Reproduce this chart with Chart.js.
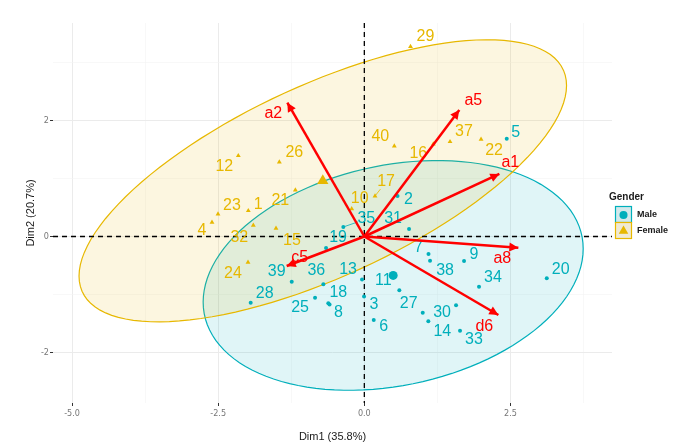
<!DOCTYPE html>
<html>
<head>
<meta charset="utf-8">
<script src="https://cdn.jsdelivr.net/npm/chart.js@4.4.1/dist/chart.umd.min.js"></script>
<style>
  html, body { margin: 0; padding: 0; background: #fff; }
</style>
</head>
<body>
<canvas id="biplot" width="689" height="448"></canvas>
<script>
// individuals, PCA coordinates
const maleIds  = ['2', '3', '5', '6', '7', '8', '9', '11', '13', '14', '18', '19', '20', '25', '27', '28', '30', '31', '33', '34', '35', '36', '38', '39'];
const maleDim1 = [0.568, -0.005, 2.436, 0.161, 1.098, -0.595, 1.706, 0.599, -0.039, 1.095, -0.616, -0.655, 3.121, -0.843, 0.999, -1.944, 1.569, 0.765, 1.637, 1.962, -0.359, -0.701, 1.124, -1.242];
const maleDim2 = [0.697, -1.033, 1.683, -1.437, -0.301, -1.170, -0.422, -0.926, -0.740, -1.460, -1.150, -0.198, -0.719, -1.053, -1.312, -1.139, -1.184, 0.129, -1.621, -0.864, 0.164, -0.823, -0.417, -0.778];

const femaleIds  = ['1', '4', '10', '12', '15', '16', '17', '21', '22', '23', '24', '26', '29', '32', '37', '40'];
const femaleDim1 = [-1.985, -2.606, -0.216, -2.156, -1.511, 1.180, 0.183, -1.180, 1.997, -2.503, -1.990, -1.454, 0.790, -1.899, 1.466, 0.513];
const femaleDim2 = [0.444, 0.244, 0.478, 1.391, 0.141, 1.592, 0.697, 0.800, 1.673, 0.387, -0.444, 1.282, 3.270, 0.193, 1.632, 1.558];

// variables (arrows)
const varNames = ['a1', 'a2', 'a5', 'a8', 'c5', 'd6'];
const varDim1  = [2.310, -1.317, 1.625, 2.635, -1.328, 2.293];
const varDim2  = [1.076, 2.303, 2.177, -0.193, -0.508, -1.351];

const xTicks = [-5, -2.5, 0, 2.5];
const yTicks = [-2, 0, 2];
const xGrid = [-5, -3.75, -2.5, -1.25, 0, 1.25, 2.5, 3.75];
const yGrid = [-2, -1, 0, 1, 2, 3];

const MALE = '#00AFBB';
const FEMALE = '#E7B800';
const ARROW = '#FF0000';
const LABEL_FONT = "16px 'Liberation Sans', Arial, sans-serif";
const TICK_FONT = { family: "'Liberation Sans Narrow', 'DejaVu Sans Condensed', Arial", size: 9 };

// label placement (pixels from the point), like ggrepel put them
const labelNudge = {
  '2': [11, 4], '3': [10, 8], '5': [9, -6], '6': [10, 7], '7': [-10, -6], '8': [9, 8], '9': [10, -6],
  '11': [-16, -10], '13': [-14, -10], '14': [14, 10], '18': [10, -11], '19': [12, -10], '20': [14, -9],
  '25': [-15, 10], '27': [-14, -9], '28': [14, -9], '30': [-14, 7], '31': [-16, -10], '33': [14, 9],
  '34': [14, -9], '35': [23, -8], '36': [-7, -14], '38': [15, 10], '39': [-15, -10],
  '1': [10, -6], '4': [-10, 8], '10': [8, -10], '12': [-14, 11], '15': [16, 12], '16': [-15, 10],
  '17': [11, -14], '21': [-15, 11], '22': [13, 11], '23': [14, -8], '24': [-15, 11], '26': [15, -9],
  '29': [15, -10], '32': [-14, 12], '37': [14, -10], '40': [-14, -9],
  a1: [11, -11], a2: [-14, 11], a5: [14, -9], a8: [-16, 11], c5: [13, -8], d6: [-14, 12]
};
const leaders = ['17', '35'];

const mean = a => a.reduce((s, v) => s + v, 0) / a.length;
const toPoints = (xs, ys) => xs.map((v, i) => ({ x: v, y: ys[i] }));

function withAlpha(hex, a) {
  const n = parseInt(hex.slice(1), 16);
  return `rgba(${n >> 16}, ${(n >> 8) & 255}, ${n & 255}, ${a})`;
}

// 95% normal confidence ellipse, same recipe as ggplot2::stat_ellipse(type = "norm")
function normEllipse(xs, ys, level) {
  const n = xs.length, mx = mean(xs), my = mean(ys);
  let sxx = 0, syy = 0, sxy = 0;
  for (let i = 0; i < n; i++) {
    const dx = xs[i] - mx, dy = ys[i] - my;
    sxx += dx * dx; syy += dy * dy; sxy += dx * dy;
  }
  sxx /= n - 1; syy /= n - 1; sxy /= n - 1;
  const r11 = Math.sqrt(sxx), r12 = sxy / r11, r22 = Math.sqrt(syy - r12 * r12);
  const dfd = n - 1;
  const f = dfd / 2 * (Math.pow(1 - level, -2 / dfd) - 1); // qf(level, 2, dfd)
  const rad = Math.sqrt(2 * f);
  const out = [];
  for (let k = 0; k <= 120; k++) {
    const t = k / 120 * 2 * Math.PI, c = Math.cos(t), s = Math.sin(t);
    out.push([mx + rad * c * r11, my + rad * (c * r12 + s * r22)]);
  }
  return out;
}

const groups = [
  { xs: maleDim1, ys: maleDim2, color: MALE },
  { xs: femaleDim1, ys: femaleDim2, color: FEMALE }
];

const ellipsePlugin = {
  id: 'groupEllipses',
  beforeDatasetsDraw(chart) {
    const { ctx, chartArea: a, scales: { x, y } } = chart;
    ctx.save();
    ctx.beginPath();
    ctx.rect(a.left, a.top, a.right - a.left, a.bottom - a.top);
    ctx.clip();
    groups.forEach(g => {
      const pts = normEllipse(g.xs, g.ys, 0.95);
      ctx.beginPath();
      pts.forEach(([u, v], i) => {
        const px = x.getPixelForValue(u), py = y.getPixelForValue(v);
        if (i) ctx.lineTo(px, py); else ctx.moveTo(px, py);
      });
      ctx.closePath();
      ctx.fillStyle = withAlpha(g.color, 0.12);
      ctx.fill();
      ctx.strokeStyle = g.color;
      ctx.lineWidth = 1.2;
      ctx.stroke();
    });
    // dashed reference lines at 0
    ctx.strokeStyle = '#000';
    ctx.lineWidth = 1.3;
    ctx.setLineDash([5, 4]);
    const x0 = x.getPixelForValue(0), y0 = y.getPixelForValue(0);
    ctx.beginPath();
    ctx.moveTo(a.left, y0); ctx.lineTo(a.right, y0);
    ctx.moveTo(x0, a.top); ctx.lineTo(x0, a.bottom);
    ctx.stroke();
    ctx.restore();
  },
  afterDatasetDraw(chart, args) {
    const ds = chart.data.datasets[args.index];
    const { ctx } = chart;
    const pts = args.meta.data;
    ctx.save();
    if (ds.ptLabels) {
      ctx.font = LABEL_FONT;
      ctx.textAlign = 'center';
      ctx.textBaseline = 'middle';
      ds.ptLabels.forEach((lab, i) => {
        const p = pts[i];
        const [dx, dy] = labelNudge[lab] || [10, -8];
        if (leaders.includes(lab)) {
          const len = Math.hypot(dx, dy), k = (len - 9) / len;
          ctx.strokeStyle = ds.pointBackgroundColor;
          ctx.lineWidth = 0.8;
          ctx.beginPath();
          ctx.moveTo(p.x, p.y);
          ctx.lineTo(p.x + dx * k, p.y + dy * k);
          ctx.stroke();
        }
        ctx.fillStyle = ds.pointBackgroundColor;
        ctx.fillText(lab, p.x + dx, p.y + dy);
      });
    }
    if (ds.arrowName) {
      const from = pts[0], to = pts[1];
      const ang = Math.atan2(to.y - from.y, to.x - from.x);
      const L = 9, W = 4.5;
      ctx.fillStyle = ARROW;
      ctx.beginPath();
      ctx.moveTo(to.x, to.y);
      ctx.lineTo(to.x - L * Math.cos(ang) + W * Math.sin(ang), to.y - L * Math.sin(ang) - W * Math.cos(ang));
      ctx.lineTo(to.x - L * Math.cos(ang) - W * Math.sin(ang), to.y - L * Math.sin(ang) + W * Math.cos(ang));
      ctx.closePath();
      ctx.fill();
      const [dx, dy] = labelNudge[ds.arrowName];
      ctx.font = LABEL_FONT;
      ctx.textAlign = 'center';
      ctx.textBaseline = 'middle';
      ctx.fillText(ds.arrowName, to.x + dx, to.y + dy);
    }
    ctx.restore();
  },
  afterDraw(chart) {
    const { ctx } = chart;
    ctx.save();
    ctx.fillStyle = '#1a1a1a';
    ctx.font = "bold 10px 'Liberation Sans', Arial, sans-serif";
    ctx.textBaseline = 'middle';
    ctx.fillText('Gender', 609, 197);
    const keys = [['Male', MALE, 'circle'], ['Female', FEMALE, 'triangle']];
    keys.forEach(([name, col, shape], i) => {
      const top = 206.5 + i * 16;
      ctx.fillStyle = '#f2f2f2';
      ctx.fillRect(615.5, top, 16, 16);
      ctx.fillStyle = withAlpha(col, 0.12);
      ctx.fillRect(615.5, top, 16, 16);
      ctx.strokeStyle = col;
      ctx.lineWidth = 1.2;
      ctx.strokeRect(615.5, top, 16, 16);
      Chart.helpers.drawPoint(ctx, { pointStyle: shape, radius: shape === 'circle' ? 4 : 5.5, borderWidth: 0 }, 623.5, top + 8.5);
      ctx.fillStyle = col;
      ctx.fill();
      ctx.fillStyle = '#1a1a1a';
      ctx.font = "bold 9px 'Liberation Sans', Arial, sans-serif";
      ctx.fillText(name, 637, top + 8);
    });
    ctx.restore();
  }
};

const arrowSets = varNames.map((name, i) => ({
  arrowName: name,
  data: [{ x: 0, y: 0 }, { x: varDim1[i], y: varDim2[i] }],
  showLine: true,
  borderColor: ARROW,
  borderWidth: 2.5,
  pointRadius: 0,
  order: 1
}));

new Chart(document.getElementById('biplot'), {
  type: 'scatter',
  data: {
    datasets: [
      {
        ptLabels: maleIds,
        data: toPoints(maleDim1, maleDim2),
        pointStyle: 'circle', pointRadius: 2, borderWidth: 0,
        pointBackgroundColor: MALE, order: 3
      },
      {
        ptLabels: femaleIds,
        data: toPoints(femaleDim1, femaleDim2),
        pointStyle: 'triangle', pointRadius: 2.8, borderWidth: 0,
        pointBackgroundColor: FEMALE, order: 3
      },
      {
        data: [{ x: mean(maleDim1), y: mean(maleDim2) }],
        pointStyle: 'circle', pointRadius: 4.5, borderWidth: 0,
        pointBackgroundColor: MALE, order: 2
      },
      {
        data: [{ x: mean(femaleDim1), y: mean(femaleDim2) }],
        pointStyle: 'triangle', pointRadius: 6.5, borderWidth: 0,
        pointBackgroundColor: FEMALE, order: 2
      },
      ...arrowSets
    ]
  },
  options: {
    responsive: false,
    animation: false,
    events: [],
    layout: { padding: { top: 23, right: 77, left: 0, bottom: 0 } },
    plugins: {
      legend: { display: false },
      tooltip: { enabled: false }
    },
    scales: {
      x: {
        type: 'linear',
        min: -5.326, max: 4.237,
        afterBuildTicks: s => { s.ticks = xGrid.map(v => ({ value: v })); },
        afterFit: s => { s.height = 45; },
        border: { display: false },
        grid: {
          color: c => xTicks.includes(c.tick.value) ? '#EBEBEB' : '#F3F3F3',
          lineWidth: c => xTicks.includes(c.tick.value) ? 1 : 0.6,
          tickLength: 3,
          tickColor: c => xTicks.includes(c.tick.value) ? '#333' : 'rgba(0,0,0,0)'
        },
        ticks: {
          autoSkip: false, maxRotation: 0, padding: 2,
          color: '#777', font: TICK_FONT,
          callback: v => xTicks.includes(v) ? v.toFixed(1) : ''
        },
        title: {
          display: true, text: 'Dim1 (35.8%)', color: '#1a1a1a',
          font: { family: "'Liberation Sans', Arial", size: 11 },
          padding: { top: 0, bottom: 4 }
        }
      },
      y: {
        type: 'linear',
        min: -2.866, max: 3.675,
        afterBuildTicks: s => { s.ticks = yGrid.map(v => ({ value: v })); },
        afterFit: s => { s.width = 53; },
        border: { display: false },
        grid: {
          color: c => yTicks.includes(c.tick.value) ? '#EBEBEB' : '#F3F3F3',
          lineWidth: c => yTicks.includes(c.tick.value) ? 1 : 0.6,
          tickLength: 3,
          tickColor: c => yTicks.includes(c.tick.value) ? '#333' : 'rgba(0,0,0,0)'
        },
        ticks: {
          autoSkip: false, padding: 1,
          color: '#777', font: TICK_FONT,
          callback: v => yTicks.includes(v) ? String(v) : ''
        },
        title: {
          display: true, text: 'Dim2 (20.7%)', color: '#1a1a1a',
          font: { family: "'Liberation Sans', Arial", size: 11 },
          padding: { top: 24, bottom: 0 }
        }
      }
    }
  },
  plugins: [ellipsePlugin]
});
</script>
</body>
</html>
